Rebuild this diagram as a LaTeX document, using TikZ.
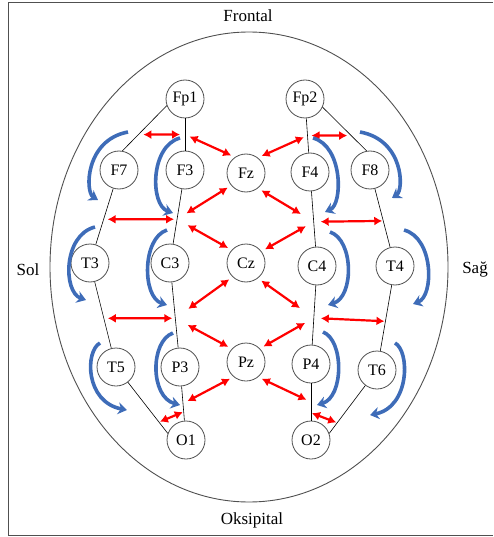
\documentclass[tikz,border=0pt]{standalone}
\usepackage{fontspec}
\setmainfont{Liberation Serif}
\usetikzlibrary{arrows.meta}
\definecolor{rotBlue}{RGB}{62,108,184}
\definecolor{rimGray}{RGB}{80,80,80}

\begin{document}
\begin{tikzpicture}[x=1pt, y=-1pt,
    elecStyle/.style={circle, draw=rimGray, line width=0.8pt, fill=white, minimum size=38pt, inner sep=0pt, font=\fontsize{16}{18}\selectfont},
    regionStyle/.style={font=\fontsize{17}{19}\selectfont},
    linkStyle/.style={black, line width=0.6pt},
    redArrow/.style={red, line width=2.2pt, >={Latex[length=8pt,width=9pt]}, <->, shorten <=4pt},
    rotArrow/.style={rotBlue, line width=3.6pt, -{Stealth[length=9pt,width=12pt]}}]
    \useasboundingbox (0,0) rectangle (493,537);
    \draw[rimGray, line width=0.9pt] (493,2) -- (8,2) -- (8,535) -- (493,535);
    \draw[rimGray, line width=0.9pt] (249,267) ellipse [x radius=199, y radius=235];

    \node[regionStyle](frontal) at (248,16) {Frontal};
    \node[regionStyle](oksipital) at (252,520) {Oksipital};
    \node[regionStyle](sol) at (28,270) {Sol};
    \node[regionStyle](sag) at (475,270) {Sağ};

    \node[elecStyle](Fp1) at (185, 99) {Fp1};
    \node[elecStyle](Fp2) at (305, 99) {Fp2};
    \node[elecStyle](F7) at (119,170) {F7};
    \node[elecStyle](F3) at (185,170) {F3};
    \node[elecStyle](Fz) at (246,173) {Fz};
    \node[elecStyle](F4) at (310,172) {F4};
    \node[elecStyle](F8) at (370,170) {F8};
    \node[elecStyle](T3) at ( 90,263) {T3};
    \node[elecStyle](C3) at (170,263) {C3};
    \node[elecStyle](Cz) at (246,263) {Cz};
    \node[elecStyle](C4) at (317,266) {C4};
    \node[elecStyle](T4) at (395,266) {T4};
    \node[elecStyle](T5) at (116,367) {T5};
    \node[elecStyle](P3) at (180,367) {P3};
    \node[elecStyle](Pz) at (246,362) {Pz};
    \node[elecStyle](P4) at (311,364) {P4};
    \node[elecStyle](T6) at (377,370) {T6};
    \node[elecStyle](O1) at (186,440) {O1};
    \node[elecStyle](O2) at (311,440) {O2};

    % left chain
    \draw[linkStyle] (Fp1.200) -- coordinate[pos=.64] (hFp1F7) (F7.80);
    \draw[linkStyle] (Fp1) -- coordinate[midway] (mFp1F3) (F3);
    \draw[linkStyle] (F7) -- coordinate[pos=.55] (mF7T3) (T3);
    \draw[linkStyle] (T3) -- coordinate[pos=.55] (mT3T5) (T5);
    \draw[linkStyle] (T5) -- coordinate[pos=.78] (mT5O1) (O1.160);
    \draw[linkStyle] (F3) -- coordinate[pos=.55] (mF3C3) (C3);
    \draw[linkStyle] (C3) -- coordinate[pos=.55] (mC3P3) (P3);
    \draw[linkStyle] (P3) -- coordinate[midway] (mP3O1) coordinate[pos=.74] (nP3O1) (O1);

    % right chain
    \draw[linkStyle] (Fp2.-25) -- coordinate[pos=.65] (hFp2F8) (F8.100);
    \draw[linkStyle] (Fp2) -- coordinate[midway] (mFp2F4) (F4);
    \draw[linkStyle] (F8) -- coordinate[pos=.55] (mF8T4) (T4);
    \draw[linkStyle] (T4) -- coordinate[pos=.55] (mT4T6) (T6);
    \draw[linkStyle] (T6) -- coordinate[pos=.78] (mT6O2) (O2.20);
    \draw[linkStyle] (F4) -- coordinate[pos=.55] (mF4C4) (C4);
    \draw[linkStyle] (C4) -- coordinate[pos=.55] (mC4P4) (P4);
    \draw[linkStyle] (P4) -- coordinate[midway] (mP4O2) coordinate[pos=.79] (nP4O2) (O2);

    % red links, left
    \draw[redArrow, shorten <=5pt, shorten >=5pt] (hFp1F7) -- (mFp1F3);
    \draw[redArrow, shorten >=5pt] (Fz.125) -- (mFp1F3);
    \draw[redArrow, shorten >=11pt] (Fz.220) -- (mF3C3);
    \draw[redArrow, shorten >=3pt] (mF7T3) -- (mF3C3);
    \draw[redArrow, shorten >=12pt] (Cz.138) -- (mF3C3);
    \draw[redArrow, shorten >=16pt] (Cz.226) -- (mC3P3);
    \draw[redArrow, shorten >=3pt] (mT3T5) -- (mC3P3);
    \draw[redArrow, shorten >=14pt] (Pz.137) -- (mC3P3);
    \draw[redArrow, shorten >=5pt] (Pz.230) -- (mP3O1);
    \draw[redArrow, shorten <=1pt, shorten >=1pt] (mT5O1) -- (nP3O1);

    % red links, right
    \draw[redArrow, shorten >=4pt] (mFp2F4) -- (hFp2F8);
    \draw[redArrow, shorten >=4pt] (Fz.52) -- (mFp2F4);
    \draw[redArrow, shorten >=15pt] (Fz.-52) -- (mF4C4);
    \draw[redArrow, shorten <=7pt, shorten >=1pt] (mF4C4) -- (mF8T4);
    \draw[redArrow, shorten >=9pt] (Cz.37) -- (mF4C4);
    \draw[redArrow, shorten >=17pt] (Cz.-52) -- (mC4P4);
    \draw[redArrow, shorten <=7pt, shorten >=1pt] (mC4P4) -- (mT4T6);
    \draw[redArrow, shorten >=10pt] (Pz.44) -- (mC4P4);
    \draw[redArrow, shorten >=5pt] (Pz.-51) -- (mP4O2);
    \draw[redArrow, shorten <=1pt, shorten >=1pt] (nP4O2) -- (mT6O2);

    % rotation arrows
    \draw[rotArrow] (128,132) .. controls (85,140) and (85,192) .. (98,200);
    \draw[rotArrow] (180,138) .. controls (150,146) and (150,205) .. (173,213);
    \draw[rotArrow] (95,227) .. controls (63,235) and (63,292) .. (86,300);
    \draw[rotArrow] (167,230) .. controls (142,238) and (142,297) .. (167,305);
    \draw[rotArrow] (100,343) .. controls (85,351) and (85,402) .. (127,410);
    \draw[rotArrow] (173,333) .. controls (150,341) and (150,397) .. (180,405);
    \draw[rotArrow] (313,138) .. controls (343,146) and (343,204) .. (325,212);
    \draw[rotArrow] (360,132) .. controls (404,140) and (404,190) .. (392,198);
    \draw[rotArrow] (330,232) .. controls (354,240) and (354,297) .. (328,305);
    \draw[rotArrow] (404,230) .. controls (434,238) and (434,296) .. (413,304);
    \draw[rotArrow] (323,332) .. controls (344,340) and (344,397) .. (317,405);
    \draw[rotArrow] (395,343) .. controls (410,351) and (410,407) .. (370,415);
\end{tikzpicture}
\end{document}
